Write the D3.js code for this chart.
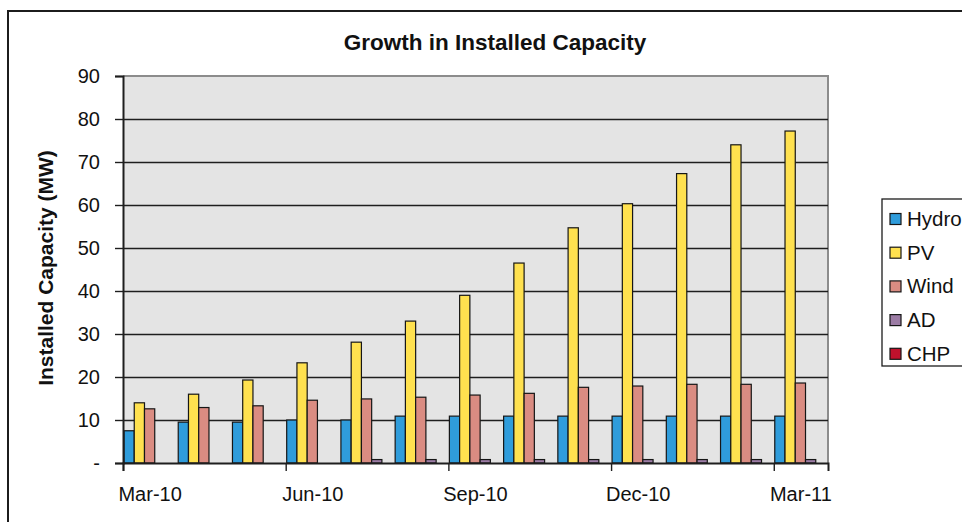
<!DOCTYPE html>
<html>
<head>
<meta charset="utf-8">
<script src="https://cdn.jsdelivr.net/npm/d3@7"></script>
<style>
  html, body { margin: 0; padding: 0; background: #fff; }
  svg { display: block; font-family: "Liberation Sans", Arial, sans-serif; }
</style>
</head>
<body>
<svg id="chart" width="962" height="522"></svg>
<script>
// Monthly categories and installed capacity (MW) per technology
const months = ["Mar-10","Apr-10","May-10","Jun-10","Jul-10","Aug-10","Sep-10",
                "Oct-10","Nov-10","Dec-10","Jan-11","Feb-11","Mar-11"];
const seriesNames = ["Hydro","PV","Wind","AD","CHP"];
const hydro = [7.5, 9.5, 9.5, 10.0, 10.0, 10.9, 10.9, 10.9, 10.9, 10.9, 10.9, 10.9, 10.9];
const pv    = [14.0, 16.0, 19.3, 23.3, 28.1, 33.0, 39.0, 46.5, 54.7, 60.3, 67.3, 74.0, 77.2];
const wind  = [12.6, 12.9, 13.3, 14.6, 14.9, 15.3, 15.8, 16.2, 17.6, 17.9, 18.3, 18.3, 18.6];
const ad    = [0, 0, 0, 0, 0.8, 0.8, 0.8, 0.8, 0.8, 0.8, 0.8, 0.8, 0.8];
const chp   = [0, 0, 0, 0, 0, 0, 0, 0, 0, 0, 0, 0, 0];
const yTicks = [0, 10, 20, 30, 40, 50, 60, 70, 80, 90];
const xLabelMonths = ["Mar-10","Jun-10","Sep-10","Dec-10","Mar-11"];

const seriesValues = { Hydro: hydro, PV: pv, Wind: wind, AD: ad, CHP: chp };
const colors = { Hydro: "#2f9cdb", PV: "#ffe14f", Wind: "#da8c82", AD: "#9c7ca5", CHP: "#c0112c" };

const svg = d3.select("#chart");
const plot = { left: 123, right: 828, top: 76, bottom: 463 };

// Outer chart frame
svg.append("rect")
  .attr("x", 8).attr("y", 11).attr("width", 1000).attr("height", 600)
  .attr("fill", "#fff").attr("stroke", "#1c1c1c").attr("stroke-width", 2);

// Scales
const x = d3.scaleBand().domain(months).range([plot.left, plot.right]).padding(0);
const xIndex = d3.scaleLinear().domain([0, months.length]).range([plot.left, plot.right]);
const xInner = d3.scaleBand().domain(seriesNames).range([1, x.bandwidth() - 2]).padding(0);
const y = d3.scaleLinear().domain([0, 90]).range([plot.bottom, plot.top]);

// Plot background
svg.append("rect")
  .attr("x", plot.left).attr("y", plot.top)
  .attr("width", plot.right - plot.left).attr("height", plot.bottom - plot.top)
  .attr("fill", "#e4e4e4");

// Plot border (top and right)
svg.append("path")
  .attr("d", `M${plot.left},${plot.top}H${plot.right}V${plot.bottom}`)
  .attr("fill", "none").attr("stroke", "#8c8c8c").attr("stroke-width", 2);

// Horizontal gridlines
svg.append("g")
  .selectAll("line")
  .data(yTicks.filter(d => d > 0 && d < 90))
  .join("line")
  .attr("x1", plot.left).attr("x2", plot.right)
  .attr("y1", d => Math.round(y(d)) + 0.5).attr("y2", d => Math.round(y(d)) + 0.5)
  .attr("stroke", "#1e1e1e").attr("stroke-width", 1.4);

// Bars
const groups = svg.append("g")
  .selectAll("g")
  .data(months)
  .join("g")
  .attr("transform", d => `translate(${x(d)},0)`);

groups.selectAll("rect")
  .data((m, i) => seriesNames.map(s => ({ key: s, value: seriesValues[s][i] })))
  .join("rect")
  .attr("x", d => xInner(d.key))
  .attr("width", xInner.bandwidth())
  .attr("y", d => y(d.value))
  .attr("height", d => y(0) - y(d.value))
  .attr("fill", d => colors[d.key])
  .attr("stroke", "#161616")
  .attr("stroke-width", 1.2);

// Y axis
const yAxis = svg.append("g")
  .attr("transform", `translate(${plot.left},0)`)
  .call(d3.axisLeft(y).tickValues(yTicks).tickSize(8).tickPadding(15)
    .tickFormat(d => d === 0 ? "-" : d));
yAxis.select(".domain").attr("stroke", "#1e1e1e").attr("stroke-width", 2);
yAxis.selectAll(".tick line").attr("stroke", "#1e1e1e").attr("stroke-width", 1.4);
yAxis.selectAll(".tick text")
  .attr("font-size", 20).attr("fill", "#111")
  .attr("font-family", "Liberation Sans, Arial, sans-serif");

// X axis tick marks at quarter boundaries
const xTicks = svg.append("g")
  .attr("transform", `translate(0,${plot.bottom})`)
  .call(d3.axisBottom(xIndex).tickValues([0, 3, 6, 9, 12]).tickSize(8).tickFormat(""));
xTicks.select(".domain").attr("stroke", "#1e1e1e").attr("stroke-width", 2);
xTicks.selectAll(".tick line").attr("stroke", "#1e1e1e").attr("stroke-width", 1.4);

// X axis labels centred on their months
const xLabels = svg.append("g")
  .attr("transform", `translate(0,${plot.bottom})`)
  .call(d3.axisBottom(x).tickValues(xLabelMonths).tickSize(0).tickPadding(24));
xLabels.select(".domain").remove();
xLabels.selectAll(".tick text")
  .attr("font-size", 20).attr("fill", "#111")
  .attr("font-family", "Liberation Sans, Arial, sans-serif");

// Title
svg.append("text")
  .attr("x", 495).attr("y", 50)
  .attr("text-anchor", "middle")
  .attr("font-size", 22.5).attr("font-weight", "bold").attr("fill", "#111")
  .text("Growth in Installed Capacity");

// Y axis title
svg.append("text")
  .attr("transform", "translate(53,268) rotate(-90)")
  .attr("text-anchor", "middle")
  .attr("font-size", 21).attr("font-weight", "bold").attr("fill", "#111")
  .text("Installed Capacity (MW)");

// Legend
const legend = svg.append("g");
legend.append("rect")
  .attr("x", 882).attr("y", 199).attr("width", 120).attr("height", 167)
  .attr("fill", "#fff").attr("stroke", "#1c1c1c").attr("stroke-width", 1.3);

const legendItems = legend.selectAll("g.item")
  .data(seriesNames)
  .join("g")
  .attr("class", "item")
  .attr("transform", (d, i) => `translate(890,${219 + i * 33.7})`);

legendItems.append("rect")
  .attr("x", 0).attr("y", -5.5).attr("width", 11).attr("height", 11)
  .attr("fill", d => colors[d]).attr("stroke", "#161616").attr("stroke-width", 1.2);

legendItems.append("text")
  .attr("x", 17).attr("y", 7)
  .attr("font-size", 20.5).attr("fill", "#111")
  .text(d => d);
</script>
</body>
</html>
